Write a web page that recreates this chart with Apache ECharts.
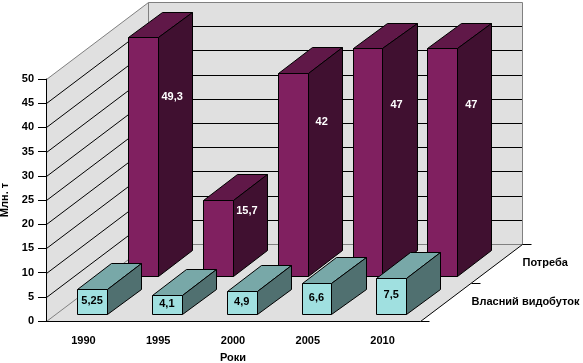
<!DOCTYPE html>
<html><head><meta charset="utf-8">
<script src="https://cdn.jsdelivr.net/npm/echarts@6/dist/echarts.min.js"></script>
<style>html,body{margin:0;padding:0;background:#fff}#c{width:583px;height:363px}</style>
</head><body><div id="c"></div>
<script>
const categories = ['1990', '1995', '2000', '2005', '2010'];
const ownProduction = [5.25, 4.1, 4.9, 6.6, 7.5];
const consumption = [49.3, 15.7, 42, 47, 47];
const seriesNames = ['Власний видобуток', 'Потреба'];
const yMin = 0, yMax = 50, yStep = 5;

const DEPTH = [102, -77];
const FONT = 'Liberation Sans, Arial, sans-serif';
const WALL = '#e0e0e0', EDGE = '#808080';

function r(v) { return Math.round(v) + 0.5; }
function poly(pts, fill, stroke) {
  return { type: 'polygon', shape: { points: pts.map(p => [r(p[0]), r(p[1])]) },
    style: { fill: fill, stroke: stroke || null, lineWidth: 1 } };
}
function seg(x1, y1, x2, y2, color) {
  return { type: 'line', shape: { x1: r(x1), y1: r(y1), x2: r(x2), y2: r(y2) },
    style: { stroke: color, lineWidth: 1 } };
}
function fmt(v) { return String(v).replace('.', ','); }

function renderWalls(params, api) {
  const cs = params.coordSys;
  const L = cs.x, R = cs.x + cs.width, T = cs.y, B = cs.y + cs.height;
  const dx = DEPTH[0], dy = DEPTH[1];
  const ch = [];
  ch.push(poly([[L, T], [L + dx, T + dy], [L + dx, B + dy], [L, B]], WALL));
  ch.push(poly([[L + dx, T + dy], [R + dx, T + dy], [R + dx, B + dy], [L + dx, B + dy]], WALL));
  ch.push(poly([[L, B], [R, B], [R + dx, B + dy], [L + dx, B + dy]], WALL));
  for (let v = yMin + yStep; v < yMax; v += yStep) {
    const y = api.coord([0, v])[1];
    ch.push(seg(L, y, L + dx, y + dy, '#000'));
    ch.push(seg(L + dx, y + dy, R + dx, y + dy, '#000'));
  }
  ch.push(seg(L, T, L + dx, T + dy, EDGE));
  ch.push(seg(L + dx, T + dy, R + dx, T + dy, EDGE));
  ch.push(seg(R + dx, T + dy, R + dx, B + dy, EDGE));
  ch.push(seg(L + dx, B + dy, R + dx, B + dy, EDGE));
  ch.push(seg(L + dx, T + dy, L + dx, B + dy, EDGE));
  ch.push(seg(L, B, L + dx, B + dy, EDGE));
  // depth axis
  ch.push(seg(R, B, R + dx, B + dy, '#000'));
  [0, 0.5, 1].forEach(d => {
    ch.push(seg(R + dx * d, B + dy * d, R + dx * d + 9, B + dy * d, '#000'));
  });
  [0.25, 0.75].forEach((d, k) => {
    ch.push({ type: 'text', style: { text: seriesNames[k], x: R + dx * d + 26, y: B + dy * d,
      align: 'left', verticalAlign: 'middle', fill: '#000', fontSize: 11, fontWeight: 'bold', fontFamily: FONT } });
  });
  return { type: 'group', children: ch };
}

function makeBar(row, colors, labelOnSide) {
  const d0 = row * 0.5 + 0.085, d1 = d0 + 0.335;
  return function (params, api) {
    const i = api.value(0), v = api.value(1);
    const p0 = api.coord([i, 0]), p1 = api.coord([i, v]);
    const bw = api.size([1, 0])[0] * 0.4;
    const xl = p0[0] - bw / 2, xr = p0[0] + bw / 2, yb = p0[1], yt = p1[1];
    const ax = DEPTH[0] * d0, ay = DEPTH[1] * d0, bx = DEPTH[0] * d1, by = DEPTH[1] * d1;
    const ch = [];
    ch.push(poly([[xl + ax, yt + ay], [xr + ax, yt + ay], [xr + bx, yt + by], [xl + bx, yt + by]], colors[1], '#000'));
    ch.push(poly([[xr + ax, yt + ay], [xr + bx, yt + by], [xr + bx, yb + by], [xr + ax, yb + ay]], colors[2], '#000'));
    ch.push(poly([[xl + ax, yt + ay], [xr + ax, yt + ay], [xr + ax, yb + ay], [xl + ax, yb + ay]], colors[0], '#000'));
    let tx, ty, fill;
    if (labelOnSide) {
      tx = xr + (ax + bx) / 2 - 3;
      ty = yt + ay + 0.3 * (yb - yt) - 12;
      fill = '#fff';
    } else {
      tx = p0[0] + ax;
      ty = (yt + yb) / 2 + ay - 1;
      fill = '#000';
    }
    ch.push({ type: 'text', style: { text: fmt(v), x: tx, y: ty, align: 'center', verticalAlign: 'middle',
      fill: fill, fontSize: 11, fontWeight: 'bold', fontFamily: FONT } });
    return { type: 'group', children: ch };
  };
}

const chart = echarts.init(document.getElementById('c'), null, { renderer: 'canvas' });
const axisText = { color: '#000', fontSize: 11, fontWeight: 'bold', fontFamily: FONT };
chart.setOption({
  animation: false,
  backgroundColor: '#fff',
  grid: { left: 46, right: 163, top: 79, bottom: 42, containLabel: false, outerBoundsMode: 'none' },
  xAxis: {
    type: 'category', data: categories, boundaryGap: true, z: 10,
    axisLine: { lineStyle: { color: '#000', width: 1 } },
    axisTick: { length: 9, lineStyle: { color: '#000' } },
    axisLabel: Object.assign({ margin: 14 }, axisText),
    splitLine: { show: false },
    name: 'Роки', nameLocation: 'middle', nameGap: 31, nameTextStyle: axisText
  },
  yAxis: {
    type: 'value', min: yMin, max: yMax, interval: yStep, z: 10,
    axisLine: { show: true, lineStyle: { color: '#000', width: 1 } },
    axisTick: { show: true, length: 8, lineStyle: { color: '#000' } },
    axisLabel: Object.assign({ margin: 12 }, axisText),
    splitLine: { show: false },
    name: 'Млн. т', nameLocation: 'middle', nameRotate: 90, nameGap: 34, nameTextStyle: axisText
  },
  series: [
    { type: 'custom', z: 1, renderItem: renderWalls, data: [[0, 0]], silent: true },
    { type: 'custom', z: 2, name: seriesNames[1], renderItem: makeBar(1, ['#802060', '#601848', '#401030'], true),
      data: consumption.map((v, i) => [i, v]) },
    { type: 'custom', z: 3, name: seriesNames[0], renderItem: makeBar(0, ['#a0e0e0', '#78a8a8', '#507070'], false),
      data: ownProduction.map((v, i) => [i, v]) }
  ]
});
</script></body></html>
